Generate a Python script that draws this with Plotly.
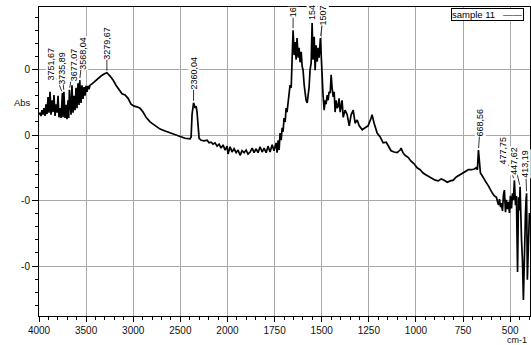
import plotly.graph_objects as go

# ---------------- data ----------------
wavenumber = [
    4000, 3989, 3979, 3968, 3958, 3947, 3936, 3926, 3915, 3904,
    3894, 3883, 3873, 3862, 3851, 3841, 3830, 3820, 3809, 3798,
    3788, 3777, 3766, 3751.67, 3745, 3735.89, 3724, 3713, 3703, 3692,
    3685, 3677.07, 3660, 3650, 3639, 3628, 3618, 3607, 3597, 3586,
    3575, 3568.04, 3554, 3544, 3533, 3522, 3512, 3501, 3490, 3480,
    3469, 3459, 3437, 3405, 3374, 3342, 3310, 3279.67, 3246, 3214,
    3183, 3151, 3119, 3087, 3055, 3023, 2991, 2960, 2928, 2896,
    2864, 2822, 2769, 2715, 2662, 2609, 2556, 2503, 2450, 2397,
    2386, 2376, 2360.04, 2354, 2344, 2333, 2323, 2312, 2301, 2280,
    2248, 2217, 2195, 2174, 2153, 2132, 2110, 2089, 2068, 2047,
    2025, 2004, 1997, 1986, 1976, 1965, 1954, 1944, 1933, 1923,
    1912, 1901, 1891, 1880, 1869, 1859, 1848, 1838, 1827, 1816,
    1806, 1795, 1785, 1774, 1763, 1753, 1742, 1737, 1731, 1726,
    1721, 1715, 1710, 1705, 1700, 1694, 1689, 1684, 1678, 1673,
    1668, 1662, 1657, 1652, 1646, 1641, 1636, 1631, 1625, 1620,
    1615, 1609, 1604, 1599, 1593, 1588, 1583, 1577, 1572, 1567,
    1562, 1556, 1551, 1546, 1540, 1535, 1530, 1524, 1519, 1514,
    1507, 1503, 1498, 1493, 1487, 1482, 1477, 1471, 1466, 1461,
    1455, 1450, 1445, 1439, 1434, 1429, 1424, 1418, 1413, 1408,
    1402, 1397, 1392, 1386, 1376, 1365, 1354, 1344, 1333, 1323,
    1312, 1301, 1285, 1270, 1254, 1238, 1233, 1222, 1206, 1190,
    1174, 1158, 1148, 1132, 1116, 1100, 1084, 1079, 1069, 1058,
    1042, 1026, 1010, 994, 978, 962, 946, 930, 914, 898,
    882, 866, 850, 834, 818, 802, 786, 770, 754, 738,
    722, 706, 690, 680, 674, 668.56, 663, 658, 647, 637,
    626, 615, 605, 594, 584, 573, 568, 562, 557, 551,
    547, 541, 536, 531, 525, 520, 515, 509, 504, 499,
    493, 488, 483, 477.75, 472, 467, 461, 456, 451, 447.62,
    440, 435, 430, 424, 419, 416, 413.19, 409, 403, 398,
]

absorbance = [
    0.031, 0.034, 0.029, 0.038, 0.031, 0.041, 0.029, 0.047, 0.032, 0.058,
    0.034, 0.066, 0.031, 0.053, 0.035, 0.061, 0.029, 0.047, 0.034, 0.060,
    0.027, 0.041, 0.026, 0.064, 0.027, 0.066, 0.026, 0.046, 0.024, 0.053,
    0.026, 0.069, 0.031, 0.076, 0.034, 0.060, 0.038, 0.072, 0.041, 0.079,
    0.046, 0.084, 0.049, 0.076, 0.055, 0.073, 0.060, 0.075, 0.066, 0.075,
    0.070, 0.076, 0.078, 0.082, 0.087, 0.090, 0.093, 0.095, 0.090, 0.084,
    0.076, 0.069, 0.063, 0.061, 0.056, 0.047, 0.044, 0.043, 0.041, 0.035,
    0.027, 0.020, 0.014, 0.009, 0.006, 0.003, 0.000, -0.003, -0.005, -0.006,
    -0.003, 0.031, 0.049, 0.047, 0.041, 0.044, 0.035, 0.015, -0.005, -0.008,
    -0.009, -0.008, -0.012, -0.011, -0.014, -0.012, -0.017, -0.014, -0.020, -0.015,
    -0.023, -0.017, -0.029, -0.018, -0.026, -0.021, -0.027, -0.023, -0.031, -0.024,
    -0.027, -0.023, -0.029, -0.026, -0.020, -0.027, -0.021, -0.027, -0.018, -0.026,
    -0.020, -0.027, -0.017, -0.026, -0.015, -0.024, -0.012, -0.027, -0.008, -0.023,
    0.003, -0.008, 0.011, 0.005, 0.026, 0.020, 0.041, 0.035, 0.053, 0.060,
    0.076, 0.072, 0.104, 0.160, 0.122, 0.142, 0.115, 0.148, 0.118, 0.133,
    0.111, 0.127, 0.105, 0.099, 0.076, 0.061, 0.053, 0.049, 0.060, 0.073,
    0.099, 0.110, 0.171, 0.115, 0.150, 0.099, 0.137, 0.112, 0.133, 0.118,
    0.148, 0.115, 0.096, 0.061, 0.038, 0.053, 0.047, 0.061, 0.053, 0.066,
    0.064, 0.092, 0.072, 0.058, 0.066, 0.035, 0.053, 0.041, 0.044, 0.056,
    0.035, 0.046, 0.053, 0.027, 0.038, 0.031, 0.014, 0.031, 0.038, 0.018,
    0.023, 0.014, 0.008, 0.011, 0.014, 0.026, 0.031, 0.018, 0.003, -0.003,
    -0.012, -0.011, -0.017, -0.024, -0.026, -0.027, -0.023, -0.020, -0.027, -0.031,
    -0.034, -0.040, -0.044, -0.050, -0.053, -0.058, -0.061, -0.064, -0.066, -0.069,
    -0.070, -0.067, -0.069, -0.072, -0.070, -0.069, -0.064, -0.061, -0.058, -0.055,
    -0.053, -0.053, -0.052, -0.050, -0.053, -0.023, -0.041, -0.058, -0.063, -0.067,
    -0.073, -0.078, -0.084, -0.089, -0.093, -0.095, -0.101, -0.107, -0.098, -0.110,
    -0.104, -0.116, -0.092, -0.084, -0.118, -0.099, -0.113, -0.102, -0.119, -0.093,
    -0.112, -0.089, -0.099, -0.069, -0.107, -0.093, -0.209, -0.095, -0.115, -0.079,
    -0.160, -0.191, -0.252, -0.145, -0.119, -0.099, -0.089, -0.221, -0.160, -0.119,
]

peak_wavenumbers = [3751.67, 3735.89, 3677.07, 3568.04, 3279.67, 2360.04,
                    1652, 1551, 1507, 668.56, 477.75, 447.62, 413.19]
peak_labels = ["3751,67", "3735,89", "3677,07", "3568,04", "3279,67", "2360,04",
               "16", "154", "1507", "668,56", "477,75", "447,62", "413,19"]

x_tick_values = [4000, 3500, 3000, 2500, 2000, 1750, 1500, 1250, 1000, 750, 500]
y_tick_values = [0.1, 0.0, -0.1, -0.2]
y_tick_labels = ["0", "0", "-0", "-0"]
series_name = "sample 11"

# ---------------- axis transform (compressed above 2000 cm-1) ----------------
def to_axis(w):
    return (4000 - w) / 500 if w >= 2000 else 4 + (2000 - w) / 250

x_axis = [to_axis(w) for w in wavenumber]
minor_wn = list(range(4000, 2000, -100)) + list(range(2000, 349, -50))

# ---------------- figure ----------------
FONT = "Liberation Sans, Arial, sans-serif"
fig = go.Figure()
fig.add_trace(go.Scatter(x=x_axis, y=absorbance, mode="lines",
                         line=dict(color="black", width=1.7),
                         name=series_name, showlegend=False))

# label offsets (pixels, text centre relative to the peak)
label_offsets = [(-11, -29), (-2, -24), (4, -25), (3, -27), (0, -30), (0, -30),
                 (0, -18), (0, -10), (3, -23), (2, -28), (-11, -30), (-6, -26), (-1, -29)]

annotations = []
for w, txt, (dx, dy) in zip(peak_wavenumbers, peak_labels, label_offsets):
    idx = wavenumber.index(w)
    annotations.append(dict(
        x=to_axis(w), y=absorbance[idx], xref="x", yref="y",
        text=txt, textangle=-90, showarrow=True, arrowhead=0,
        arrowwidth=0.8, arrowcolor="black", standoff=2,
        ax=dx, ay=dy, bgcolor="white", borderpad=0,
        font=dict(family=FONT, size=9, color="black")))

# legend box (symbol on the right, like the reference)
annotations.append(dict(
    x=(524 - 39) / 491, y=(316 - 8) / 309, xref="paper", yref="paper",
    xanchor="right", yanchor="top", showarrow=False,
    text=series_name + " &nbsp;&nbsp;——", bgcolor="white",
    bordercolor="black", borderwidth=1, borderpad=0,
    font=dict(family=FONT, size=9.5, color="black")))
annotations.append(dict(
    x=(22 - 39) / 491, y=(316 - 103) / 309, xref="paper", yref="paper",
    xanchor="center", yanchor="middle", showarrow=False, text="Abs",
    font=dict(family=FONT, size=9.5, color="#111")))
annotations.append(dict(
    x=(517 - 39) / 491, y=(316 - 339.5) / 309, xref="paper", yref="paper",
    xanchor="center", yanchor="middle", showarrow=False, text="cm-1",
    font=dict(family=FONT, size=9, color="#111")))

fig.update_layout(
    width=531, height=345,
    margin=dict(l=39, r=1, t=7, b=29),
    paper_bgcolor="white", plot_bgcolor="white",
    showlegend=False,
    annotations=annotations,
    shapes=[dict(type="line", xref="x", yref="paper", x0=to_axis(2000), x1=to_axis(2000),
                 y0=0, y1=1, line=dict(color="#555555", width=1), layer="below")],
    xaxis=dict(
        range=[0, to_axis(395)],
        tickmode="array",
        tickvals=[to_axis(v) for v in x_tick_values],
        ticktext=[str(v) for v in x_tick_values],
        ticks="outside", ticklen=5, tickcolor="black", tickwidth=1,
        showgrid=True, gridcolor="#a8a8a8", gridwidth=1,
        showline=True, linecolor="black", linewidth=1, mirror=True,
        zeroline=False, automargin=False,
        minor=dict(tickmode="array", tickvals=[to_axis(v) for v in minor_wn],
                   ticks="outside", ticklen=3, tickcolor="black", showgrid=False),
        tickfont=dict(family=FONT, size=10, color="#111"),
    ),
    yaxis=dict(
        range=[-0.2763, 0.1954],
        tickmode="array", tickvals=y_tick_values, ticktext=y_tick_labels,
        ticks="outside", ticklen=6, tickcolor="black", tickwidth=1,
        showgrid=True, gridcolor="#a8a8a8", gridwidth=1,
        showline=True, linecolor="black", linewidth=1, mirror=True,
        zeroline=False, automargin=False,
        minor=dict(tick0=0, dtick=0.02, ticks="outside", ticklen=3,
                   tickcolor="black", showgrid=False),
        tickfont=dict(family=FONT, size=10, color="#111"),
    ),
)

fig.write_html("out.html",
               config={"displayModeBar": False},
               post_script="document.body.style.margin='0';document.body.style.padding='0';")
